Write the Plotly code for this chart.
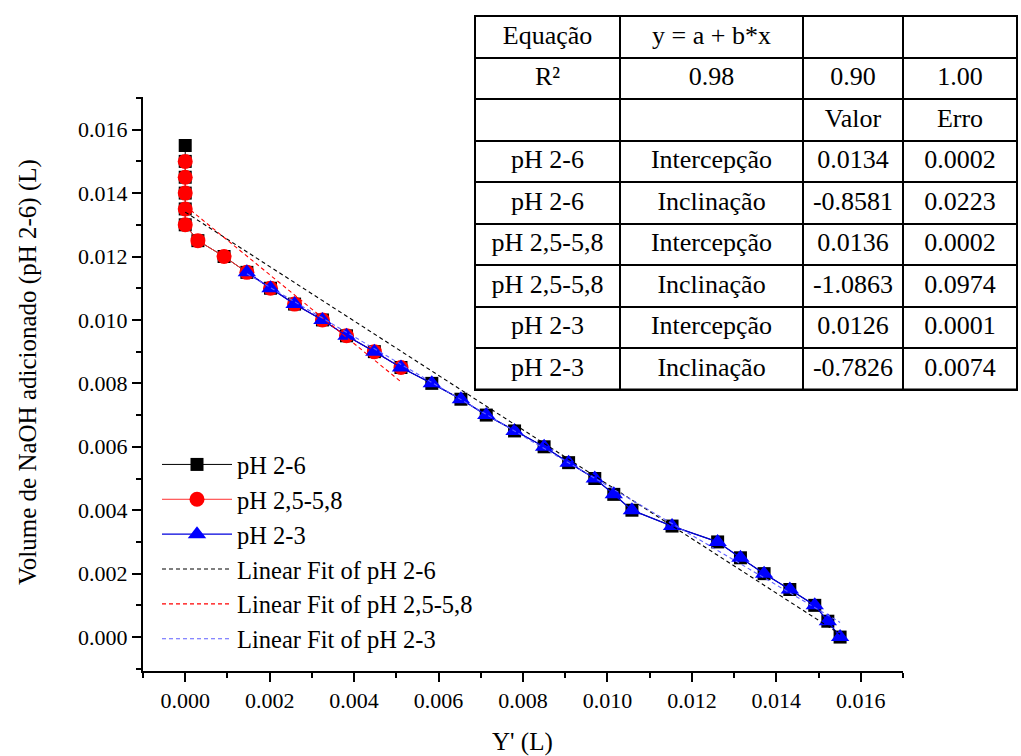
import plotly.graph_objects as go

# ---------------- data ----------------
x_ph26 = [0, 0, 0, 0, 0, 0, 0.0003, 0.00092, 0.00146, 0.00202, 0.00259, 0.00325,
          0.00382, 0.00448, 0.00511, 0.00584, 0.00653, 0.00713, 0.00780, 0.00850,
          0.00908, 0.00970, 0.01015, 0.01058, 0.01153, 0.01261, 0.01315, 0.01371,
          0.01432, 0.01491, 0.01522, 0.01551]
y_ph26 = [0.0155, 0.0150, 0.0145, 0.0140, 0.0135, 0.0130, 0.0125, 0.0120, 0.0115,
          0.0110, 0.0105, 0.0100, 0.0095, 0.0090, 0.0085, 0.0080, 0.0075, 0.0070,
          0.0065, 0.0060, 0.0055, 0.0050, 0.0045, 0.0040, 0.0035, 0.0030, 0.0025,
          0.0020, 0.0015, 0.0010, 0.0005, 0.0000]

x_ph2558 = [0, 0, 0, 0, 0, 0.0003, 0.00092, 0.00146, 0.00202, 0.00259, 0.00325,
            0.00382, 0.00448, 0.00511]
y_ph2558 = [0.0150, 0.0145, 0.0140, 0.0135, 0.0130, 0.0125, 0.0120, 0.0115, 0.0110,
            0.0105, 0.0100, 0.0095, 0.0090, 0.0085]

x_ph23 = [0.00146, 0.00202, 0.00259, 0.00325, 0.00382, 0.00448, 0.00511, 0.00584,
          0.00653, 0.00713, 0.00780, 0.00850, 0.00908, 0.00970, 0.01015, 0.01058,
          0.01153, 0.01261, 0.01315, 0.01371, 0.01432, 0.01491, 0.01522, 0.01551]
y_ph23 = [0.0115, 0.0110, 0.0105, 0.0100, 0.0095, 0.0090, 0.0085, 0.0080, 0.0075,
          0.0070, 0.0065, 0.0060, 0.0055, 0.0050, 0.0045, 0.0040, 0.0035, 0.0030,
          0.0025, 0.0020, 0.0015, 0.0010, 0.0005, 0.0000]

series_names = ["pH 2-6", "pH 2,5-5,8", "pH 2-3"]
fit_intercepts = [0.0134, 0.0136, 0.0126]
fit_slopes = [-0.8581, -1.0863, -0.7826]

tbl_header = ["Equação", "y = a + b*x", "", ""]
tbl_col1 = ["R²", "", "pH 2-6", "pH 2-6", "pH 2,5-5,8", "pH 2,5-5,8", "pH 2-3", "pH 2-3"]
tbl_col2 = ["0.98", "", "Intercepção", "Inclinação", "Intercepção", "Inclinação", "Intercepção", "Inclinação"]
tbl_col3 = ["0.90", "Valor", "0.0134", "-0.8581", "0.0136", "-1.0863", "0.0126", "-0.7826"]
tbl_col4 = ["1.00", "Erro", "0.0002", "0.0223", "0.0002", "0.0974", "0.0001", "0.0074"]

x_title = "Y' (L)"
y_title = "Volume de NaOH adicionado (pH 2-6) (L)"

# ---------------- figure ----------------
W, H = 1021, 756
FONT = "Liberation Serif"
ROW_H = 41.5
TBL_TOP = 16

fig = go.Figure()

fig.add_trace(go.Scatter(
    x=x_ph26, y=y_ph26, name=series_names[0], mode="lines+markers",
    line=dict(color="black", width=1),
    marker=dict(symbol="square", size=13, color="black", line=dict(width=0))))
fig.add_trace(go.Scatter(
    x=x_ph2558, y=y_ph2558, name=series_names[1], mode="lines+markers",
    line=dict(color="#ff3030", width=1),
    marker=dict(symbol="circle", size=15, color="#ff0000", line=dict(width=0))))
fig.add_trace(go.Scatter(
    x=x_ph23, y=y_ph23, name=series_names[2], mode="lines+markers",
    line=dict(color="#0000dd", width=1.3),
    marker=dict(symbol="triangle-up", size=16, color="#0000ff", line=dict(width=0))))

fit_colors = ["#000000", "#ff0000", "#6060ff"]
xs_all = [x_ph26, x_ph2558, x_ph23]
for i in range(3):
    xr = [min(xs_all[i]), max(xs_all[i])]
    yr = [fit_intercepts[i] + fit_slopes[i] * v for v in xr]
    fig.add_trace(go.Scatter(
        x=xr, y=yr, mode="lines", name="Linear Fit of " + series_names[i],
        line=dict(color=fit_colors[i], width=1.1, dash="4px,3px")))

# table
n_rows = 1 + len(tbl_col1)
tbl_bottom = TBL_TOP + n_rows * ROW_H
fig.add_trace(go.Table(
    domain=dict(x=[475 / W, 1017 / W], y=[1 - (tbl_bottom + 4) / H, 1 - TBL_TOP / H]),
    columnwidth=[145, 183, 100, 114],
    header=dict(values=tbl_header, height=ROW_H, align="center",
                line=dict(color="black", width=2), fill=dict(color="white"),
                font=dict(family=FONT, size=26, color="black")),
    cells=dict(values=[tbl_col1, tbl_col2, tbl_col3, tbl_col4], height=ROW_H,
               align="center", line=dict(color="black", width=2),
               fill=dict(color="white"),
               font=dict(family=FONT, size=26, color="black")),
))

axis_common = dict(
    showline=True, linecolor="black", linewidth=2, mirror=False,
    ticks="outside", ticklen=9, tickwidth=2, tickcolor="black",
    showgrid=False, zeroline=False,
    tickfont=dict(family=FONT, size=22, color="black"),
    minor=dict(ticks="outside", ticklen=5, tickwidth=2, tickcolor="black", dtick=0.001),
)

fig.update_layout(
    width=W, height=H,
    margin=dict(l=0, r=0, t=0, b=0),
    paper_bgcolor="white", plot_bgcolor="white",
    font=dict(family=FONT, size=22, color="black"),
    showlegend=True,
    legend=dict(x=157 / W, y=1 - 442 / H, xanchor="left", yanchor="top",
                bgcolor="rgba(0,0,0,0)", font=dict(family=FONT, size=24.5),
                itemwidth=70, tracegroupgap=0),
    xaxis=dict(domain=[143 / W, 903 / W], range=[-0.001, 0.017], dtick=0.002, tick0=0,
               tickformat=".3f", **axis_common),
    yaxis=dict(domain=[1 - 671 / H, 1 - 97 / H], range=[-0.00107, 0.01703], dtick=0.002, tick0=0,
               tickformat=".3f", **axis_common),
    shapes=[dict(type="line", xref="paper", yref="paper",
                 x0=474 / W, x1=1018 / W, y0=1 - tbl_bottom / H, y1=1 - tbl_bottom / H,
                 line=dict(color="black", width=2))],
    annotations=[
        dict(text=x_title, x=522 / W, y=1 - 742 / H, xref="paper", yref="paper",
             showarrow=False, font=dict(family=FONT, size=25), xanchor="center", yanchor="middle"),
        dict(text=y_title, x=28 / W, y=1 - 372 / H, xref="paper", yref="paper",
             showarrow=False, textangle=-90, font=dict(family=FONT, size=25),
             xanchor="center", yanchor="middle"),
    ],
)

fig.write_html("out.html", config={"displayModeBar": False},
               post_script="document.body.style.margin='0';")
